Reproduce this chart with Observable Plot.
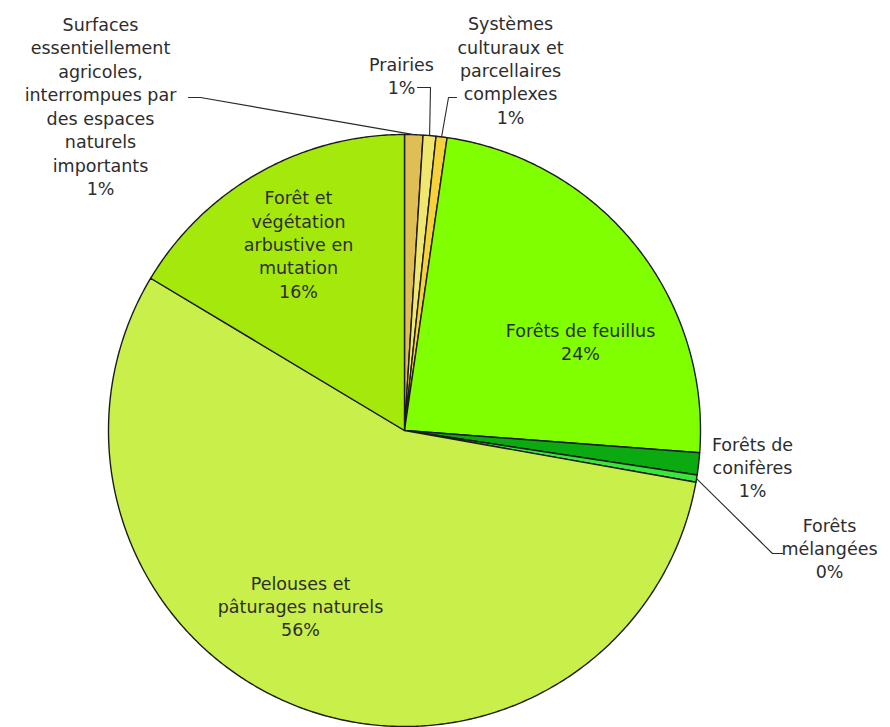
<!DOCTYPE html>
<html>
<head>
<meta charset="utf-8">
<script src="https://cdn.jsdelivr.net/npm/d3@7"></script>
<script src="https://cdn.jsdelivr.net/npm/@observablehq/plot@0.6"></script>
<style>
  html, body { margin: 0; padding: 0; background: #fff; }
  #chart svg { display: block; }
</style>
</head>
<body>
<div id="chart"></div>
<script>
// ---- Data (clockwise from 12 o'clock) ----
const categories = [
  "Surfaces essentiellement agricoles, interrompues par des espaces naturels importants",
  "Prairies",
  "Systèmes culturaux et parcellaires complexes",
  "Forêts de feuillus",
  "Forêts de conifères",
  "Forêts mélangées",
  "Pelouses et pâturages naturels",
  "Forêt et végétation arbustive en mutation"
];
const labelLines = [
  "Surfaces\nessentiellement\nagricoles,\ninterrompues par\ndes espaces\nnaturels\nimportants",
  "Prairies",
  "Systèmes\nculturaux et\nparcellaires\ncomplexes",
  "Forêts de feuillus",
  "Forêts de\nconifères",
  "Forêts\nmélangées",
  "Pelouses et\npâturages naturels",
  "Forêt et\nvégétation\narbustive en\nmutation"
];
const values = [1.0, 0.7, 0.6, 23.9, 1.2, 0.4, 55.8, 16.4];
const palette = ["#dfbf55", "#efe770", "#f5d23a", "#80ff00", "#0aaa10", "#3ae63a", "#c9f04a", "#a4e80c"];

// ---- Layout (pixels in a 890x727 frame) ----
const W = 890, H = 727;
const CX = 404, CY = 430, R = 296;
const labelPos = {   // centre of each label block
  0: [100, 105], 1: [401, 74.5], 2: [510, 69], 3: [580, 340.5],
  4: [752, 466], 5: [829, 547], 6: [300, 605], 7: [298, 243]
};
const leaderBends = { // extra points of the leader lines, from label side to slice
  0: [[188, 97], [200, 97]],
  1: [[417, 87], [430, 87]],
  2: [[456, 97], [448, 97]],
  5: [[782, 553], [772, 553]]
};
const ux = px => (px - CX) / R;
const uy = py => (CY - py) / R;

// ---- Build slices ----
const total = d3.sum(values);
let acc = 0;
const slices = categories.map((name, i) => {
  const a0 = acc / total * 2 * Math.PI;
  acc += values[i];
  const a1 = acc / total * 2 * Math.PI;
  return {i, name, value: values[i], a0, a1, mid: (a0 + a1) / 2};
});

const polyPts = [];
for (const s of slices) {
  const n = Math.max(2, Math.ceil((s.a1 - s.a0) / (Math.PI / 360)));
  polyPts.push({name: s.name, x: 0, y: 0});
  for (let k = 0; k <= n; k++) {
    const a = s.a0 + (s.a1 - s.a0) * k / n;
    polyPts.push({name: s.name, x: Math.sin(a), y: Math.cos(a)});
  }
  polyPts.push({name: s.name, x: 0, y: 0});
}

const labels = slices.map(s => ({
  x: ux(labelPos[s.i][0]),
  y: uy(labelPos[s.i][1]),
  text: labelLines[s.i] + "\n" + Math.round(s.value / total * 100) + "%"
}));

const leaders = [];
for (const s of slices) {
  if (!leaderBends[s.i]) continue;
  for (const [px, py] of leaderBends[s.i]) leaders.push({id: s.i, x: ux(px), y: uy(py)});
  leaders.push({id: s.i, x: Math.sin(s.mid), y: Math.cos(s.mid)});
}

const chart = Plot.plot({
  width: W,
  height: H,
  margin: 0,
  x: {domain: [ux(0), ux(W)], axis: null},
  y: {domain: [uy(H), uy(0)], axis: null},
  color: {domain: categories, range: palette},
  marks: [
    Plot.line(polyPts, {x: "x", y: "y", z: "name", fill: "name", stroke: "#1c1c1c", strokeWidth: 1.4, strokeLinejoin: "round"}),
    Plot.line(leaders, {x: "x", y: "y", z: "id", stroke: "#2a2a2a", strokeWidth: 1.1}),
    Plot.text(labels, {x: "x", y: "y", text: "text", fontSize: 17.5, lineHeight: 1.34, fill: "#2d2d2d", fontFamily: "DejaVu Sans", textAnchor: "middle"})
  ]
});
document.getElementById("chart").appendChild(chart);
</script>
</body>
</html>
